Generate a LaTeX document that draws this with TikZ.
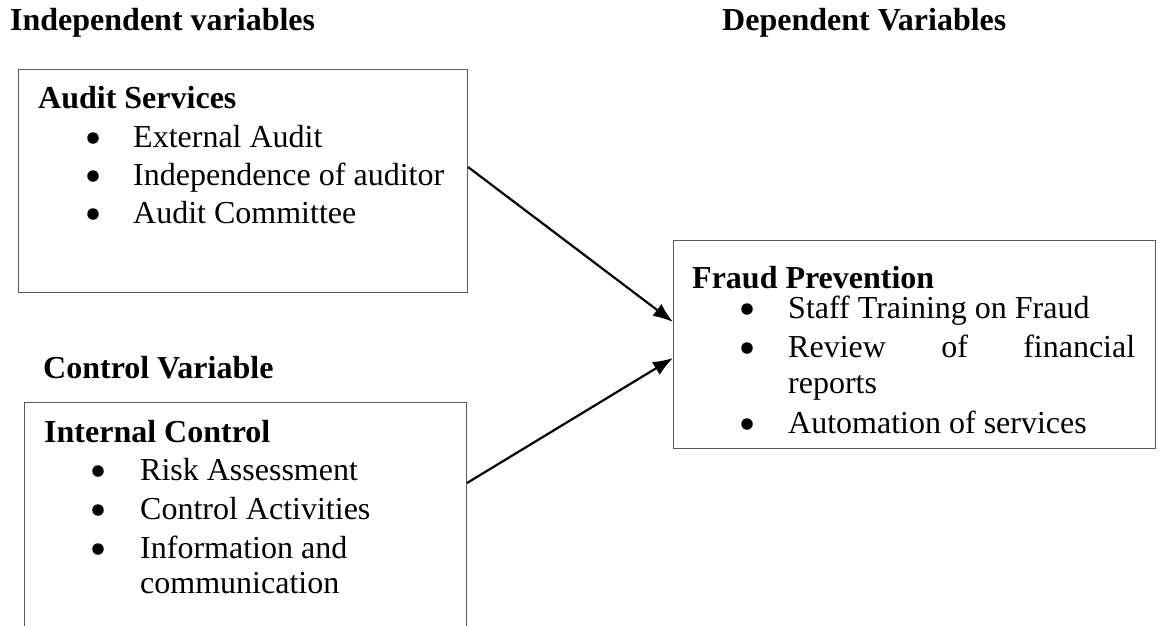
\documentclass[tikz,border=0pt]{standalone}
\usepackage{fontspec}
\setmainfont{Liberation Serif}
\usetikzlibrary{arrows.meta}
\tikzset{
  box/.style={draw=black!65, line width=1pt, anchor=north west, inner sep=0pt},
  txt/.style={anchor=base west, inner sep=0pt, font=\fontsize{32}{38}\selectfont},
  head/.style={txt, font=\fontsize{32}{38}\selectfont\bfseries},
  bul/.style={circle, fill=black, inner sep=0pt, minimum size=11.5pt, yshift=9pt},
}
\begin{document}
\begin{tikzpicture}[x=1pt, y=-1pt, >={Latex[length=20pt,width=15pt]}]
\clip (0,0) rectangle (1162,625);
\fill[white] (0,0) rectangle (1162,625);

% column headings
\node[head] (indep) at (10,30) {Independent variables};
\node[head] (dep) at (722,30) {Dependent Variables};
\node[head] (ctrl) at (43,378) {Control Variable};

% boxes
\node[box, minimum width=449pt, minimum height=223pt] (audit) at (18,69) {};
\node[box, minimum width=442pt, minimum height=240pt] (internal) at (24,402) {};
\node[box, minimum width=482pt, minimum height=208pt] (fraud) at (673,240) {};

% audit services
\node[head] (as) at (38,108) {Audit Services};
\foreach \y/\t in {147/External Audit, 185/Independence of auditor, 223/Audit Committee}
{
    \node[bul] (asb\y) at (93,\y) {};
    \node[txt] (ast\y) at (133,\y) {\t};
}

% internal control
\node[head] (ic) at (44,442) {Internal Control};
\foreach \y/\t in {480/Risk Assessment, 519/Control Activities, 558/Information and}
{
    \node[bul] (icb\y) at (98,\y) {};
    \node[txt] (ict\y) at (140,\y) {\t};
}
\node[txt] (ict593) at (140,593) {communication};

% fraud prevention
\node[head] (fp) at (692,288) {Fraud Prevention};
\foreach \y in {318,357,433}
    \node[bul] (fpb\y) at (747,\y) {};
\node[txt] (fpt318) at (788,318) {Staff Training on Fraud};
\node[txt, text width=347pt] (fpt357) at (788,357) {Review\hfill of\hfill financial};
\node[txt] (fpt393) at (788,393) {reports};
\node[txt] (fpt433) at (788,433) {Automation of services};

% arrows
\draw[->, line width=2.2pt] (audit.east |- 0,167) -- (fraud.west |- 0,322);
\draw[->, line width=2.2pt] (internal.east |- 0,483) -- (fraud.west |- 0,358);
\end{tikzpicture}
\end{document}
